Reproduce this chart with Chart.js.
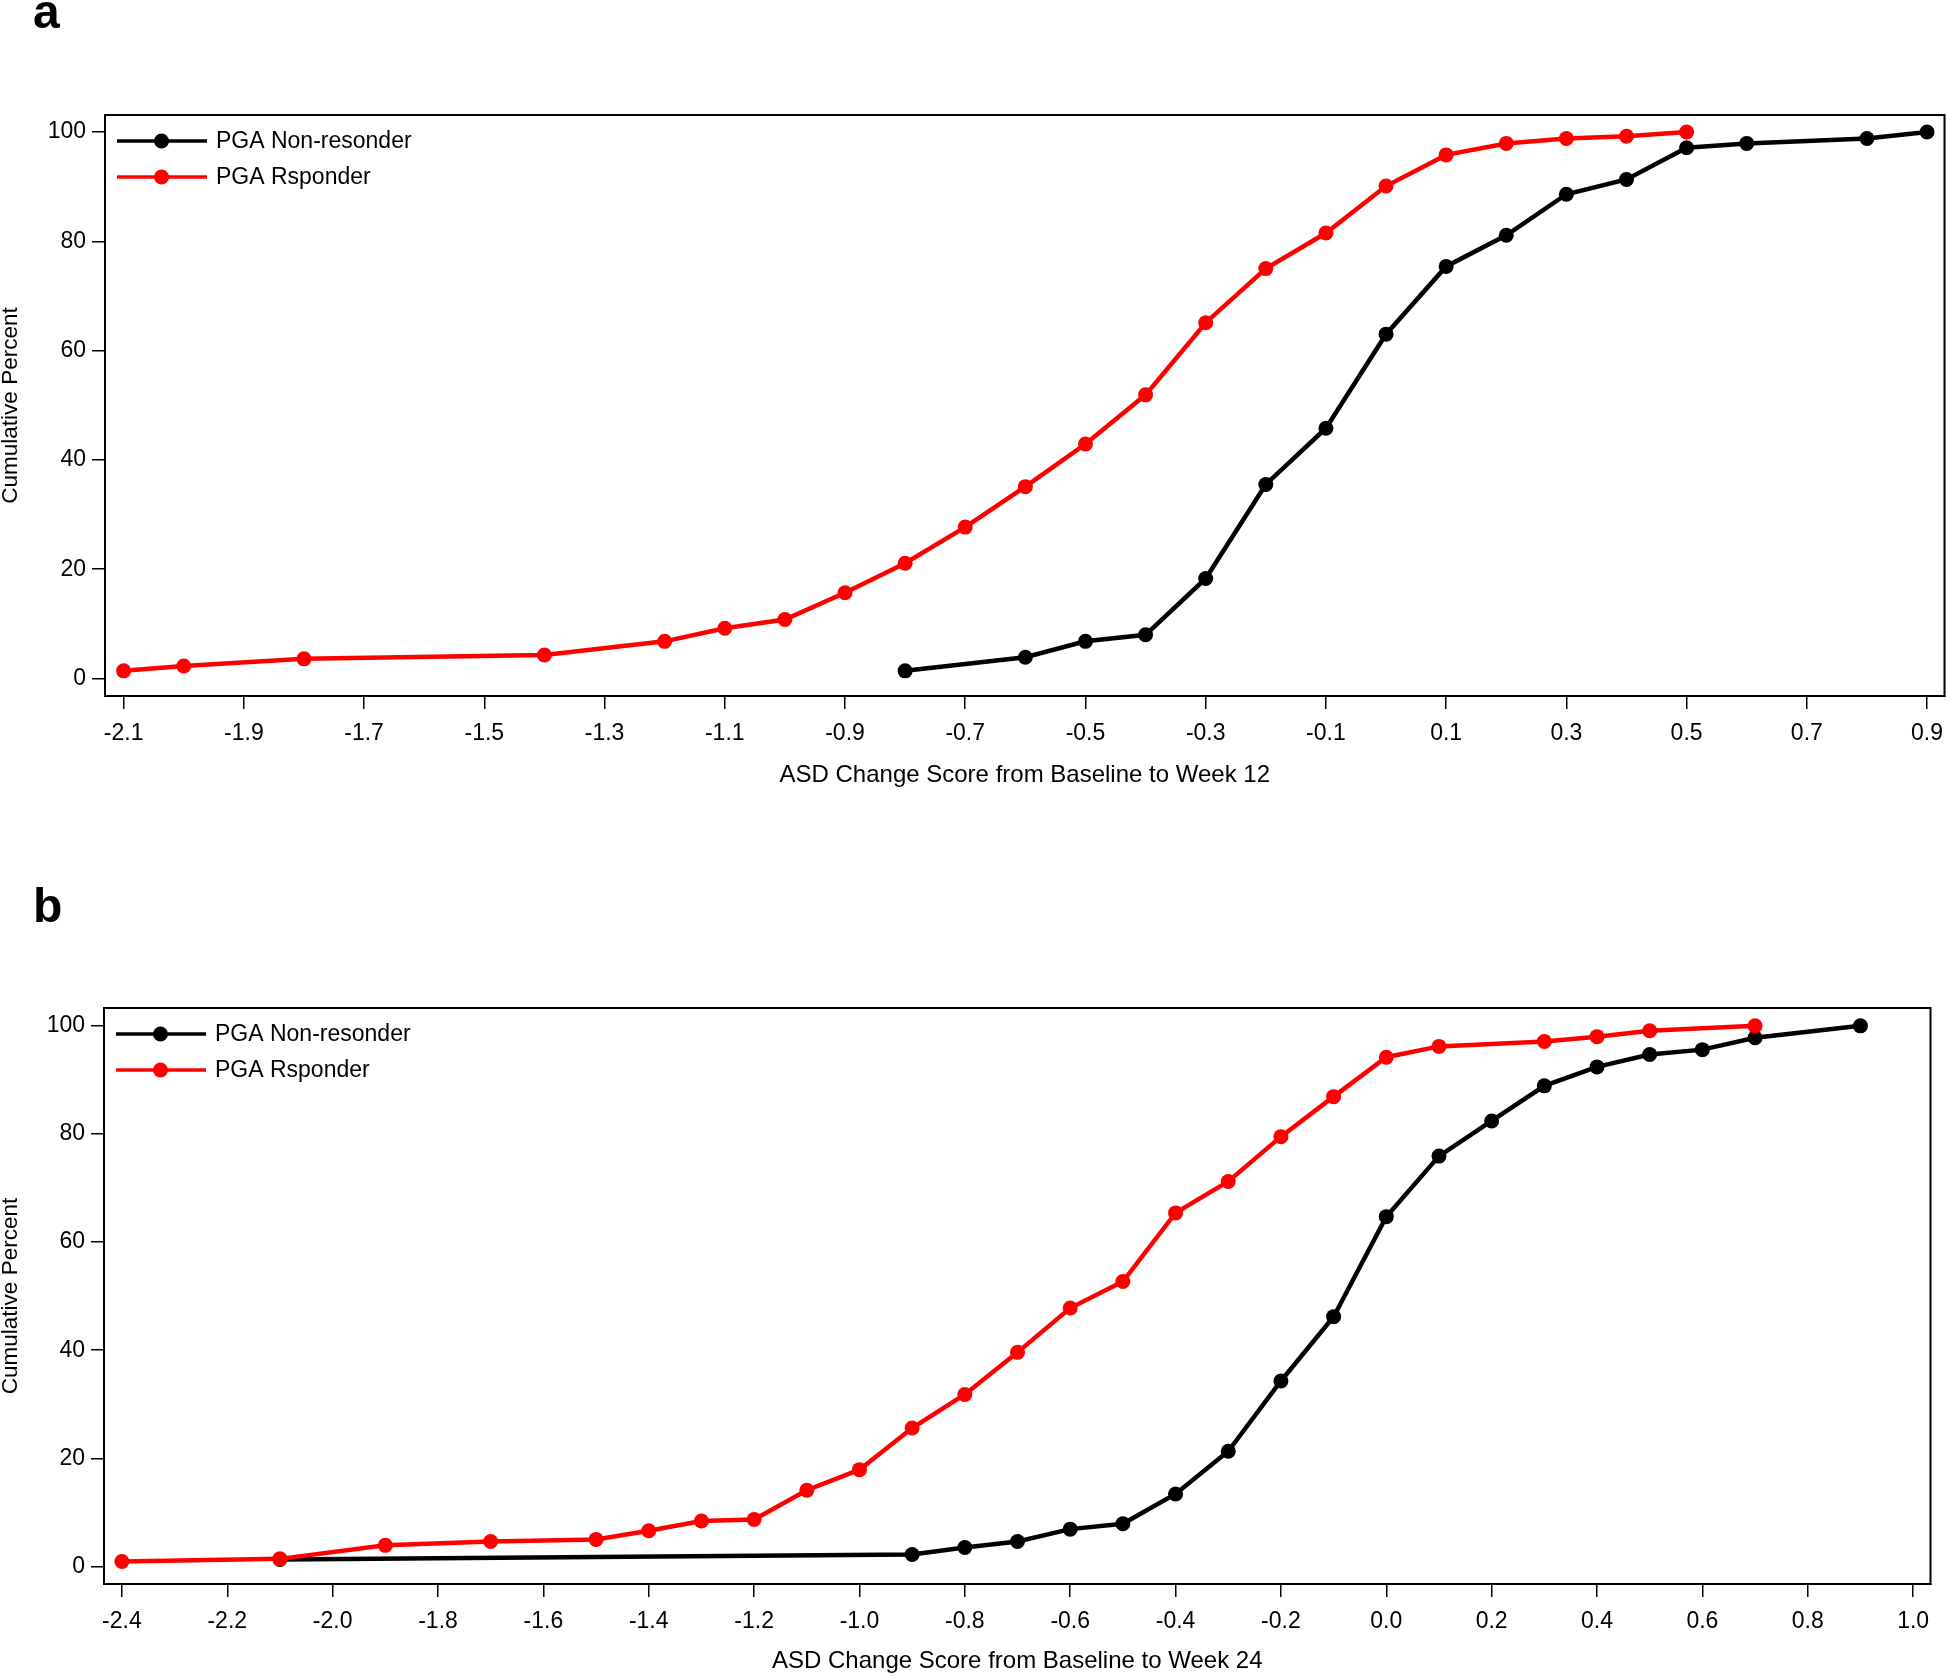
<!DOCTYPE html>
<html>
<head>
<meta charset="utf-8">
<title>Cumulative percent by ASD change score</title>
<script src="https://cdn.jsdelivr.net/npm/chart.js@4.4.1/dist/chart.umd.min.js"></script>
<style>
  html, body { margin: 0; padding: 0; background: #fff; }
  #wrap { position: relative; width: 1946px; height: 1677px; }
  canvas { position: absolute; left: 0; }
  #week12 { top: 0; }
  #week24 { top: 840px; }
</style>
</head>
<body>
<div id="wrap">
  <canvas id="week12" width="1946" height="840"></canvas>
  <canvas id="week24" width="1946" height="837"></canvas>
</div>
<script>
// ===================================================================
// DATA
// ===================================================================
const yTicks = [0, 20, 40, 60, 80, 100];

// panel a - week 12
const w12Ticks = [-2.1, -1.9, -1.7, -1.5, -1.3, -1.1, -0.9, -0.7, -0.5, -0.3, -0.1, 0.1, 0.3, 0.5, 0.7, 0.9];
const w12NonResponderX = [-0.8, -0.6, -0.5, -0.4, -0.3, -0.2, -0.1, 0.0, 0.1, 0.2, 0.3, 0.4, 0.5, 0.6, 0.8, 0.9];
const w12NonResponderY = [1.4, 3.9, 6.8, 8.0, 18.3, 35.5, 45.8, 63.0, 75.4, 81.1, 88.6, 91.3, 97.1, 97.9, 98.8, 100];
const w12ResponderX = [-2.1, -2.0, -1.8, -1.4, -1.2, -1.1, -1.0, -0.9, -0.8, -0.7, -0.6, -0.5, -0.4, -0.3, -0.2, -0.1, 0.0, 0.1, 0.2, 0.3, 0.4, 0.5];
const w12ResponderY = [1.4, 2.3, 3.6, 4.3, 6.8, 9.2, 10.8, 15.7, 21.1, 27.7, 35.1, 42.9, 51.9, 65.1, 75.0, 81.5, 90.1, 95.8, 97.9, 98.8, 99.2, 100];

// panel b - week 24
const w24Ticks = [-2.4, -2.2, -2.0, -1.8, -1.6, -1.4, -1.2, -1.0, -0.8, -0.6, -0.4, -0.2, 0.0, 0.2, 0.4, 0.6, 0.8, 1.0];
const w24NonResponderX = [-2.1, -0.9, -0.8, -0.7, -0.6, -0.5, -0.4, -0.3, -0.2, -0.1, 0.0, 0.1, 0.2, 0.3, 0.4, 0.5, 0.6, 0.7, 0.9];
const w24NonResponderY = [1.3, 2.2, 3.5, 4.6, 6.9, 7.9, 13.4, 21.3, 34.3, 46.2, 64.7, 75.9, 82.4, 88.9, 92.4, 94.7, 95.6, 97.8, 100];
const w24ResponderX = [-2.4, -2.1, -1.9, -1.7, -1.5, -1.4, -1.3, -1.2, -1.1, -1.0, -0.9, -0.8, -0.7, -0.6, -0.5, -0.4, -0.3, -0.2, -0.1, 0.0, 0.1, 0.3, 0.4, 0.5, 0.7];
const w24ResponderY = [0.9, 1.4, 3.9, 4.6, 5.0, 6.6, 8.4, 8.7, 14.1, 17.9, 25.6, 31.8, 39.6, 47.8, 52.7, 65.4, 71.2, 79.5, 86.9, 94.2, 96.2, 97.1, 98.0, 99.1, 100];

const seriesLabels = ['PGA Non-resonder', 'PGA Rsponder'];
const seriesColors = ['#000000', '#ff0000'];

// ===================================================================
// CHART SETUP
// ===================================================================
const FONT = "'Liberation Sans', Arial, Helvetica, sans-serif";
Chart.defaults.font.family = FONT;
Chart.defaults.color = '#000';

const toPoints = (xs, ys) => xs.map((x, i) => ({ x: x, y: ys[i] }));

// box around the plot area, legend inside it, and the panel letter
const framePlugin = {
    id: 'frame',
    afterDraw(chart, args, opts) {
        const { ctx, chartArea: a } = chart;
        ctx.save();
        ctx.strokeStyle = '#000';
        ctx.lineWidth = 2;
        ctx.strokeRect(a.left, a.top, a.right - a.left, a.bottom - a.top);

        chart.data.datasets.forEach((ds, i) => {
            const y = a.top + 26 + i * 36;
            const x0 = a.left + 12;
            ctx.strokeStyle = ds.borderColor;
            ctx.lineWidth = 3.5;
            ctx.beginPath();
            ctx.moveTo(x0, y);
            ctx.lineTo(x0 + 90, y);
            ctx.stroke();
            ctx.fillStyle = ds.borderColor;
            ctx.beginPath();
            ctx.arc(x0 + 44.5, y, 7.5, 0, Math.PI * 2);
            ctx.fill();
            ctx.fillStyle = '#000';
            ctx.font = '23px ' + FONT;
            ctx.textBaseline = 'middle';
            ctx.textAlign = 'left';
            ctx.fillText(ds.label, x0 + 99, y + 1);
        });

        ctx.fillStyle = '#000';
        ctx.font = 'bold 48px ' + FONT;
        ctx.textBaseline = 'alphabetic';
        ctx.fillText(opts.letter, 33, opts.letterY);
        ctx.restore();
    }
};

function buildChart(canvasId, cfg) {
    const datasets = cfg.series.map((pts, i) => ({
        label: seriesLabels[i],
        data: pts,
        borderColor: seriesColors[i],
        backgroundColor: seriesColors[i],
        pointBackgroundColor: seriesColors[i],
        pointBorderWidth: 0,
        pointRadius: 7.5,
        borderWidth: 4.5,
        tension: 0,
        clip: false,
        order: i === 1 ? 0 : 1 // responder drawn on top
    }));

    return new Chart(document.getElementById(canvasId), {
        type: 'line',
        data: { datasets },
        plugins: [framePlugin],
        options: {
            responsive: false,
            animation: false,
            layout: { autoPadding: false, padding: { top: cfg.padTop, right: cfg.padRight, left: 0, bottom: 0 } },
            plugins: {
                legend: { display: false },
                tooltip: { enabled: false },
                frame: { letter: cfg.letter, letterY: cfg.letterY }
            },
            scales: {
                x: {
                    type: 'linear',
                    min: cfg.xMin,
                    max: cfg.xMax,
                    afterFit: s => {
                        s.height = cfg.xAxisH;
                        s.paddingLeft = 0;
                        s.paddingRight = 0;
                    },
                    afterBuildTicks: s => { s.ticks = cfg.xTicks.map(v => ({ value: v })); },
                    ticks: {
                        autoSkip: false, maxRotation: 0, padding: 11,
                        font: { size: 23 },
                        callback: v => v.toFixed(1)
                    },
                    grid: { drawOnChartArea: false, drawTicks: true, tickLength: 13, color: '#000', lineWidth: 1.5 },
                    border: { display: true, color: '#000', width: 2 },
                    title: {
                        display: true, text: cfg.xTitle,
                        font: { size: 24 },
                        padding: { top: 0, bottom: cfg.xTitlePad }
                    }
                },
                y: {
                    type: 'linear',
                    min: cfg.yMin,
                    max: cfg.yMax,
                    afterFit: s => { s.width = cfg.yAxisW; },
                    afterBuildTicks: s => { s.ticks = yTicks.map(v => ({ value: v })); },
                    ticks: { padding: 6, font: { size: 23 }, callback: v => String(v) },
                    grid: { drawOnChartArea: false, drawTicks: true, tickLength: 13, color: '#000', lineWidth: 1.5 },
                    border: { display: true, color: '#000', width: 2 },
                    title: {
                        display: true, text: 'Cumulative Percent',
                        font: { size: 22.5, lineHeight: 1 },
                        padding: { top: 0, bottom: 0 }
                    }
                }
            }
        }
    });
}

// ===================================================================
// INITIALIZATION
// ===================================================================
buildChart('week12', {
    series: [toPoints(w12NonResponderX, w12NonResponderY), toPoints(w12ResponderX, w12ResponderY)],
    xTicks: w12Ticks,
    xMin: -2.131, xMax: 0.929,
    yMin: -3.2, yMax: 103.1,
    padTop: 115, padRight: 1.5,
    yAxisW: 105, xAxisH: 144,
    xTitle: 'ASD Change Score from Baseline to Week 12',
    xTitlePad: 50,
    letter: 'a', letterY: 28
});

buildChart('week24', {
    series: [toPoints(w24NonResponderX, w24NonResponderY), toPoints(w24ResponderX, w24ResponderY)],
    xTicks: w24Ticks,
    xMin: -2.434, xMax: 1.033,
    yMin: -3.25, yMax: 103.3,
    padTop: 168, padRight: 15.5,
    yAxisW: 104, xAxisH: 93,
    xTitle: 'ASD Change Score from Baseline to Week 24',
    xTitlePad: 1,
    letter: 'b', letterY: 82
});
</script>
</body>
</html>
